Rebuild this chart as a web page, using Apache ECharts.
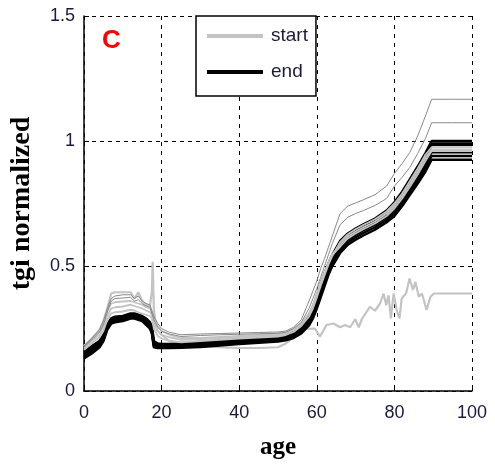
<!DOCTYPE html>
<html>
<head>
<meta charset="utf-8">
<script src="https://cdn.jsdelivr.net/npm/echarts@6/dist/echarts.min.js"></script>
<style>html,body{margin:0;padding:0;background:#fff}#c{width:495px;height:464px}</style>
</head>
<body>
<div id="c"></div>
<script>
// ---- data ----
const ages = [
  0,2,4,5,6,7,8,
  10,12,13,14,15,16,17,
  17.5,18,19,20,22,25,30,
  35,40,45,50,52,54,56,
  58,59,60,61,62,63,64,
  66,68,70,72,75,78,80,
  82,84,86,88,89.6,95,100
];
const xTicks = [0,20,40,60,80,100];
const yTicks = [0,0.5,1,1.5];

// "end" lines (black)
const end1 = [
  .13,.15,.175,.2,.245,.27,.275,
  .28,.29,.29,.285,.28,.265,.25,
  .23,.175,.172,.172,.172,.173,.176,
  .182,.188,.193,.198,.203,.212,.23,
  .262,.29,.33,.375,.42,.465,.5,
  .552,.585,.605,.622,.645,.675,.70,
  .74,.785,.83,.878,.925,.925,.925
];
const end2 = [
  .135,.155,.18,.205,.25,.275,.28,
  .285,.295,.295,.29,.285,.27,.255,
  .235,.18,.176,.175,.175,.176,.18,
  .186,.192,.197,.202,.207,.217,.236,
  .27,.298,.34,.385,.43,.475,.51,
  .562,.595,.615,.632,.655,.685,.712,
  .752,.797,.843,.893,.94,.94,.94
];
const end3 = [
  .14,.16,.185,.21,.255,.28,.285,
  .29,.3,.3,.295,.29,.275,.26,
  .24,.185,.18,.178,.178,.18,.184,
  .19,.195,.2,.205,.211,.222,.242,
  .278,.308,.35,.395,.44,.485,.52,
  .572,.605,.625,.642,.665,.696,.724,
  .764,.81,.857,.908,.955,.955,.955
];
const end4 = [
  .148,.168,.19,.215,.258,.283,.29,
  .294,.304,.304,.299,.294,.28,.265,
  .245,.19,.183,.181,.181,.183,.188,
  .193,.198,.203,.208,.215,.226,.248,
  .285,.316,.358,.405,.45,.493,.528,
  .58,.613,.633,.65,.673,.705,.735,
  .776,.823,.872,.927,.985,.985,.985
];
const end5 = [
  .153,.173,.195,.22,.262,.287,.293,
  .297,.307,.307,.302,.297,.285,.27,
  .252,.195,.186,.184,.184,.186,.19,
  .196,.201,.206,.211,.218,.23,.254,
  .292,.325,.368,.415,.46,.502,.537,
  .59,.622,.642,.659,.682,.714,.745,
  .786,.834,.884,.94,.99,.99,.99
];
const end6 = [
  .16,.18,.2,.225,.265,.29,.297,
  .3,.31,.31,.305,.3,.29,.275,
  .26,.2,.19,.188,.188,.19,.194,
  .2,.205,.21,.215,.222,.235,.26,
  .3,.335,.38,.43,.47,.51,.545,
  .6,.63,.65,.667,.69,.722,.755,
  .797,.847,.898,.952,1.0,1.0,1.0
];

// "start" lines (light grey)
const start1 = [
  .165,.19,.215,.24,.285,.31,.315,
  .318,.325,.322,.315,.31,.305,.3,
  .29,.25,.22,.21,.2,.195,.2,
  .205,.21,.214,.218,.224,.236,.26,
  .298,.33,.373,.42,.463,.505,.54,
  .595,.627,.647,.664,.687,.718,.75,
  .79,.84,.89,.945,.975,.975,.975
];
const start2 = [
  .172,.2,.225,.255,.3,.33,.335,
  .338,.345,.34,.335,.33,.322,.315,
  .305,.27,.24,.225,.215,.205,.208,
  .212,.216,.22,.224,.23,.243,.268,
  .31,.345,.39,.435,.475,.515,.548,
  .585,.618,.638,.655,.678,.71,.74,
  .78,.828,.878,.933,.965,.965,.965
];
const start3 = [
  .18,.21,.24,.27,.32,.35,.355,
  .358,.36,.355,.35,.345,.335,.33,
  .325,.29,.26,.24,.225,.212,.212,
  .216,.22,.224,.228,.234,.246,.272,
  .31,.343,.385,.43,.47,.51,.545,
  .577,.61,.63,.647,.67,.70,.73,
  .77,.817,.866,.92,.96,.96,.96
];
// thin darker grey lines on top
const thin1 = [
  .18,.21,.245,.28,.33,.37,.38,
  .385,.385,.37,.38,.36,.35,.345,
  .34,.3,.27,.25,.235,.225,.228,
  .23,.232,.234,.236,.24,.255,.285,
  .36,.4,.44,.49,.53,.575,.62,
  .71,.74,.752,.765,.785,.82,.87,
  .91,.955,1.02,1.1,1.167,1.167,1.167
];
const thin2 = [
  .175,.205,.235,.265,.315,.36,.37,
  .372,.375,.36,.365,.35,.34,.335,
  .33,.285,.255,.24,.228,.218,.222,
  .225,.227,.229,.231,.235,.25,.275,
  .33,.37,.41,.455,.5,.545,.59,
  .665,.695,.71,.722,.742,.77,.82,
  .855,.895,.95,1.01,1.073,1.073,1.073
];

// noisy "start" line that diverges after 55
const noisyAges = [
  0,2,4,5,6,7,8,10,12,13,14,15,16,17,17.5,17.7,18,18.5,19,20,22,25,28,30,35,40,45,50,52,54,
  55.7,57,59.5,60.8,62.5,64.3,66,67.3,68.6,69.9,70.8,71.7,73.7,75,76.3,77.2,77.9,78.5,79.1,79.8,
  80.6,81.3,81.9,83,83.9,84.8,85.4,86.3,87.1,88.3,89.3,90.2,100
];
const noisyVals = [
  .18,.21,.245,.28,.33,.39,.395,.395,.395,.37,.395,.36,.345,.34,.40,.517,.33,.26,.24,.225,.2,.19,.182,.18,.175,.172,.172,.175,.19,.215,
  .244,.248,.25,.217,.264,.27,.255,.264,.255,.287,.255,.29,.337,.321,.35,.39,.344,.383,.29,.39,
  .324,.29,.371,.39,.45,.404,.437,.377,.39,.324,.377,.39,.39
];

// ---- chart ----
const pair = (xs, ys) => xs.map((x, i) => [x, ys[i]]);
const GREY = '#c3c3c3';
const mk = (name, xs, ys, color, width) => ({
  name, type: 'line', data: pair(xs, ys), showSymbol: false, symbol: 'none',
  lineStyle: { color, width }, itemStyle: { color }, silent: true,
  emphasis: { disabled: true }, animation: false
});

const series = [
  mk('start', noisyAges, noisyVals, GREY, 2.2),
  mk('end', ages, end1, '#000', 2.5),
  mk('end', ages, end2, '#000', 2.5),
  mk('end', ages, end3, '#000', 2.5),
  mk('end', ages, end4, '#000', 2.5),
  mk('end', ages, end5, '#000', 2.5),
  mk('end', ages, end6, '#000', 2.5),
  mk('start', ages, start1, GREY, 1.8),
  mk('start', ages, start2, GREY, 1.8),
  mk('start', ages, start3, GREY, 1.8),
  mk('start', ages, thin1, '#8a8a8a', 1),
  mk('start', ages, thin2, '#8a8a8a', 1)
];

const LBL = "'Liberation Sans',Arial,sans-serif";
const TXT = '#1a1a3a';
const chart = echarts.init(document.getElementById('c'), null, { renderer: 'canvas' });
chart.setOption({
  animation: false,
  backgroundColor: '#fff',
  title: {
    text: 'C', left: 102, top: 28, padding: 0,
    textStyle: { color: '#ff0000', fontSize: 26, fontWeight: 'bold', fontFamily: "'Liberation Sans',Arial,sans-serif" }
  },
  legend: {
    data: ['start', 'end'], orient: 'vertical', left: 196, top: 16,
    icon: 'rect', itemWidth: 56, itemHeight: 4, itemGap: 14,
    padding: [9, 8, 13, 11],
    backgroundColor: '#fff', borderColor: '#000', borderWidth: 1.5, borderRadius: 0,
    selectedMode: false,
    textStyle: { fontSize: 19, lineHeight: 22, color: TXT, fontFamily: LBL, padding: [0, 0, 0, 3] }
  },
  grid: { left: 84, right: 23, top: 16, bottom: 73, containLabel: false, outerBoundsMode: 'none' },
  xAxis: {
    type: 'value', min: xTicks[0], max: xTicks[xTicks.length - 1], interval: xTicks[1] - xTicks[0],
    name: 'age', nameLocation: 'middle', nameGap: 44,
    nameTextStyle: { fontSize: 25, fontWeight: 'bold', color: '#000', fontFamily: "'Liberation Serif','Times New Roman',serif" },
    axisLine: { show: true, lineStyle: { color: '#000', width: 1.5 } },
    axisTick: { show: true, inside: true, length: 5, lineStyle: { color: '#000' } },
    axisLabel: { fontSize: 18, color: TXT, fontFamily: LBL, margin: 13, showMinLabel: true, showMaxLabel: true },
    splitLine: { show: true, lineStyle: { color: '#000', width: 1, type: [4, 5] } }
  },
  yAxis: {
    type: 'value', min: yTicks[0], max: yTicks[yTicks.length - 1], interval: yTicks[1] - yTicks[0],
    name: 'tgi normalized', nameLocation: 'middle', nameGap: 48,
    nameTextStyle: { fontSize: 28, fontWeight: 'bold', color: '#000', fontFamily: "'Liberation Serif','Times New Roman',serif" },
    axisLine: { show: true, lineStyle: { color: '#000', width: 1.5 } },
    axisTick: { show: true, inside: true, length: 5, lineStyle: { color: '#000' } },
    axisLabel: { fontSize: 18, color: TXT, fontFamily: LBL, margin: 9, showMinLabel: true, showMaxLabel: true },
    splitLine: { show: true, lineStyle: { color: '#000', width: 1, type: [4, 4] } }
  },
  series
});
</script>
</body>
</html>
